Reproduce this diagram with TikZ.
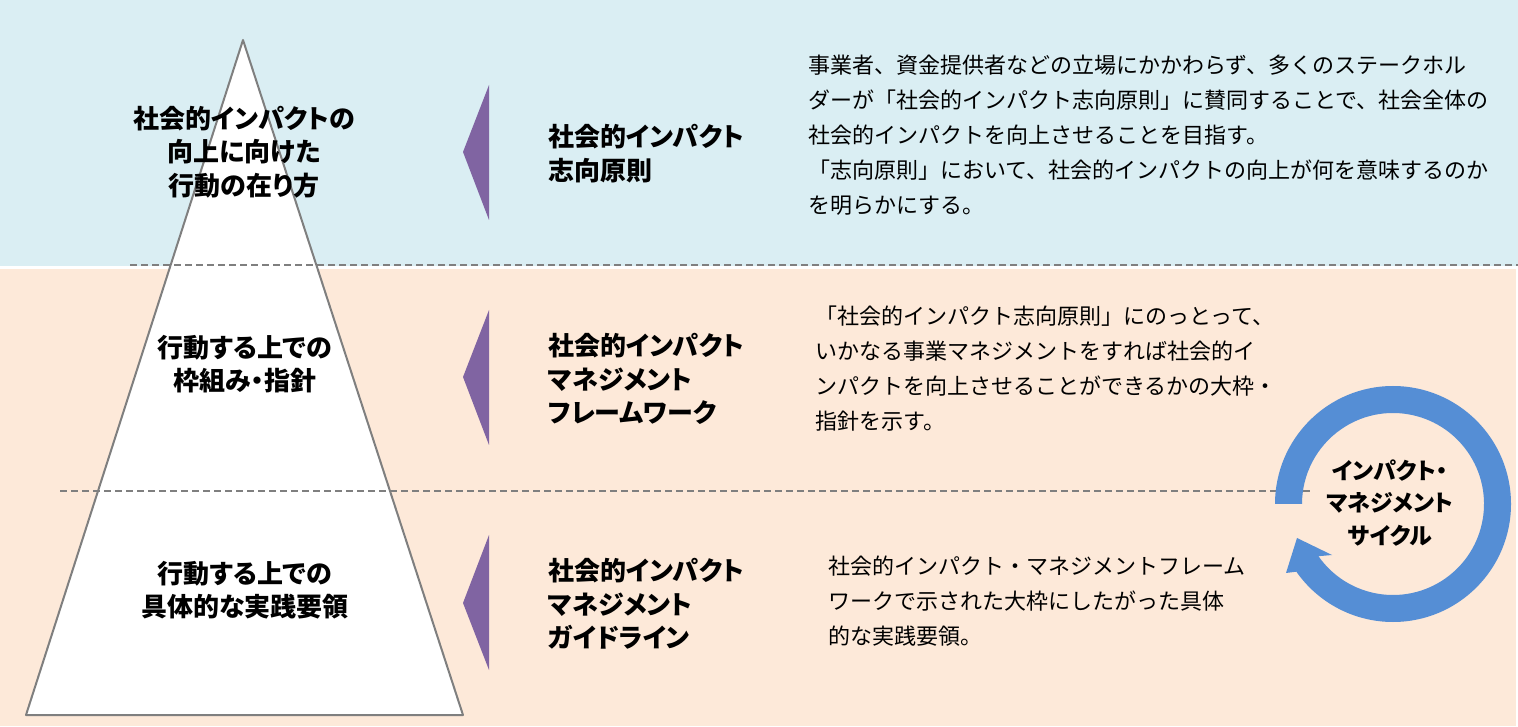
\documentclass[tikz,border=0pt]{standalone}
\usepackage{fontspec}
\setmainfont{Noto Sans CJK JP}
\newfontfamily\labelfont[RawFeature=+palt]{Noto Sans CJK JP}
\usepackage{tikz}
\definecolor{bandblue}{RGB}{218,238,243}
\definecolor{bandpeach}{RGB}{253,233,217}
\definecolor{levelpurple}{RGB}{128,100,162}
\definecolor{cycleblue}{RGB}{85,142,213}
\definecolor{rulegray}{RGB}{127,127,127}

\begin{document}
\begin{tikzpicture}[x=1pt, y=1pt,
	level/.style={font=\labelfont\fontsize{26}{33.5}\selectfont\bfseries, align=center, inner sep=0pt},
	title/.style={font=\labelfont\fontsize{26}{33.5}\selectfont\bfseries, align=left, anchor=west, inner sep=0pt},
	body/.style={font=\fontsize{22}{35}\selectfont, align=left, anchor=west, inner sep=0pt},
	divider/.style={rulegray, line width=2pt, dash pattern=on 7pt off 4pt}]
						\useasboundingbox (0, 0) rectangle (1518, 726);
						% bands
						\fill[bandblue] (0, 460) rectangle (1518, 726);
						\fill[bandpeach] (0, 0) rectangle (1516, 457);
						% pyramid
						\draw[rulegray, line width=2pt, fill=white, line join=round] (243, 686) -- (26, 11) -- (463, 11) -- cycle;
						\draw[divider] (130, 461) -- (1518, 461);
						\draw[divider] (60, 235) -- (1312, 235);
						\node[level] (goal) at (244, 574) {社会的インパクトの\\向上に向けた\\行動の在り方};
						\node[level] (frame) at (245, 362) {行動する上での\\枠組み・指針};
						\node[level] (guide) at (245, 136) {行動する上での\\具体的な実践要領};
						% pointers
						\fill[levelpurple] (463, 574) -- (489, 641) -- (489, 506) -- cycle;
						\fill[levelpurple] (463, 349) -- (489, 416) -- (489, 281) -- cycle;
						\fill[levelpurple] (463, 123) -- (489, 191) -- (489, 56) -- cycle;
						\node[title] (principle) at (548, 572.5) {社会的インパクト\\志向原則};
						\node[title] (framework) at (548, 347) {社会的インパクト\\マネジメント\\フレームワーク};
						\node[title] (guideline) at (548, 122) {社会的インパクト\\マネジメント\\ガイドライン};
						\node[body] (principletext) at (808, 590.5) {事業者、資金提供者などの立場にかかわらず、多くのステークホル\\ダーが「社会的インパクト志向原則」に賛同することで、社会全体の\\社会的インパクトを向上させることを目指す。\\「志向原則」において、社会的インパクトの向上が何を意味するのか\\を明らかにする。};
						\node[body] (frameworktext) at (815, 357) {「社会的インパクト志向原則」にのっとって、\\いかなる事業マネジメントをすれば社会的イ\\ンパクトを向上させることができるかの大枠・\\指針を示す。};
						\node[body] (guidelinetext) at (828, 125) {社会的インパクト・マネジメントフレーム\\ワークで示された大枠にしたがった具体\\的な実践要領。};
						% cycle arrow
						\coordinate (hub) at (1393, 222);
						\fill[cycleblue] ([shift={(180:118)}]hub) arc[start angle=180, end angle=-145, radius=118]
							-- (1286, 153) -- (1297, 188) -- (1332, 171)
							-- ([shift={(-145:91)}]hub) arc[start angle=-145, end angle=180, radius=91] -- cycle;
						\node[font=\labelfont\fontsize{23}{32.5}\selectfont\bfseries, align=center, inner sep=0pt] (cycle) at (1390, 223) {インパクト・\\マネジメント\\サイクル};
					\end{tikzpicture}
\end{document}
